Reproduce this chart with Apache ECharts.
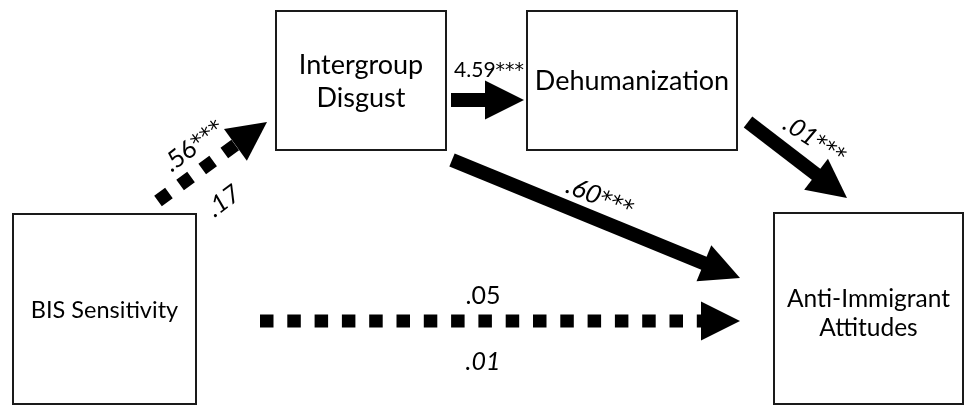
<!DOCTYPE html>
<html>
<head>
<meta charset="utf-8">
<script src="https://cdn.jsdelivr.net/npm/echarts@6/dist/echarts.min.js"></script>
<style>html,body{margin:0;padding:0;background:#fff}#c{width:966px;height:406px}</style>
</head>
<body>
<div id="c"></div>
<script>
// ---- Data ----
const nodeNames = ['BIS Sensitivity', 'Intergroup\nDisgust', 'Dehumanization', 'Anti-Immigrant\nAttitudes'];
const pathNames = ['BIS→Disgust', 'Disgust→Dehumanization', 'Dehumanization→Attitudes', 'Disgust→Attitudes', 'BIS→Attitudes'];
const pathDashed = [true, false, false, false, true];
const coefValues = ['.56', '.17', '4.59', '.01', '.60', '.05', '.01'];
const coefStars = ['***', '', '***', '***', '***', '', ''];
const coefItalic = [false, true, false, true, true, false, true];

// ---- Layout (diagram coordinates) ----
const nodeBox = [[13, 214, 196, 404], [276, 11, 446, 150], [527, 11, 737, 150], [774, 213, 963, 404]];
const nodeFont = [23.5, 27, 27, 24.5];
const nodeLine = [30, 33, 33, 29];
const nodeShift = [1, 1, 1, 5];
const pathStart = [[158, 201], [451, 100], [748, 122], [452, 160], [260, 321]];
const pathEnd = [[267, 122], [524, 100], [847, 198], [740, 278], [740, 321]];
const coefPos = [[192, 144], [222, 199], [489, 68], [816, 138], [601, 195], [483, 293], [483, 359]];
const coefRot = [37, 37, 0, -33, -22, 0, 0];
const coefSize = [25, 25, 21, 25, 26, 25, 25];

const FONT = 'Lato, "Open Sans", sans-serif';
const chart = echarts.init(document.getElementById('c'));

function boxItem(params, api) {
  const i = params.dataIndex;
  const b = nodeBox[i];
  const p0 = api.coord([b[0], b[1]]);
  const p1 = api.coord([b[2], b[3]]);
  return {
    type: 'group',
    children: [
      { type: 'rect', shape: { x: p0[0], y: p0[1], width: p1[0] - p0[0], height: p1[1] - p0[1] },
        style: { fill: '#fff', stroke: '#1a1a1a', lineWidth: 2 } },
      { type: 'text', x: (p0[0] + p1[0]) / 2, y: (p0[1] + p1[1]) / 2 + nodeShift[i],
        style: { text: nodeNames[i], fontSize: nodeFont[i], fontFamily: FONT, fill: '#000', align: 'center',
          verticalAlign: 'middle', lineHeight: nodeLine[i] } }
    ]
  };
}

function arrowItem(params, api) {
  const i = params.dataIndex;
  const a = api.coord(pathStart[i]);
  const t = api.coord(pathEnd[i]);
  const dx = t[0] - a[0], dy = t[1] - a[1];
  const L = Math.sqrt(dx * dx + dy * dy);
  const ux = dx / L, uy = dy / L, nx = -uy, ny = ux;
  const headLen = 39, headW = 39;
  const bx = t[0] - ux * headLen, by = t[1] - uy * headLen;
  const dashed = pathDashed[i];
  const w = dashed ? 13 : 14;
  const ex = bx + ux * 2, ey = by + uy * 2;
  return {
    type: 'group',
    children: [
      { type: 'line', shape: { x1: a[0], y1: a[1], x2: ex, y2: ey },
        style: { stroke: '#000', lineWidth: w, lineCap: 'butt', lineDash: dashed ? [13.5, 13.8] : null } },
      { type: 'polygon', shape: { points: [[t[0], t[1]], [bx + nx * headW / 2, by + ny * headW / 2], [bx - nx * headW / 2, by - ny * headW / 2]] },
        style: { fill: '#000' } }
    ]
  };
}

function labelItem(params, api) {
  const i = params.dataIndex;
  const p = api.coord(coefPos[i]);
  const fs = coefSize[i];
  const style = coefItalic[i] ? 'italic' : 'normal';
  const txt = '{n|' + coefValues[i] + '}' + (coefStars[i] ? '{s|' + coefStars[i] + '}' : '');
  return {
    type: 'text', x: p[0], y: p[1], rotation: coefRot[i] * Math.PI / 180,
    style: {
      text: txt, align: 'center', verticalAlign: 'middle',
      rich: {
        n: { fontSize: fs, fontFamily: FONT, fontStyle: style, fill: '#000', lineHeight: fs * 1.2, verticalAlign: 'bottom' },
        s: { fontSize: fs * 0.9, fontFamily: '"DejaVu Sans", sans-serif', fontStyle: style, fill: '#000', lineHeight: fs * 1.2, verticalAlign: 'bottom' }
      }
    }
  };
}

chart.setOption({
  animation: false,
  backgroundColor: '#fff',
  grid: { left: 0, right: 0, top: 0, bottom: 0 },
  xAxis: { type: 'value', min: 0, max: 966, show: false },
  yAxis: { type: 'value', min: 0, max: 406, inverse: true, show: false },
  series: [
    { type: 'custom', name: 'paths', renderItem: arrowItem, data: pathNames.map((n, i) => [i]), silent: true, z: 1 },
    { type: 'custom', name: 'nodes', renderItem: boxItem, data: nodeNames.map((n, i) => [i]), silent: true, z: 2 },
    { type: 'custom', name: 'coefficients', renderItem: labelItem, data: coefValues.map((n, i) => [i]), silent: true, z: 3 }
  ]
});
</script>
</body>
</html>
